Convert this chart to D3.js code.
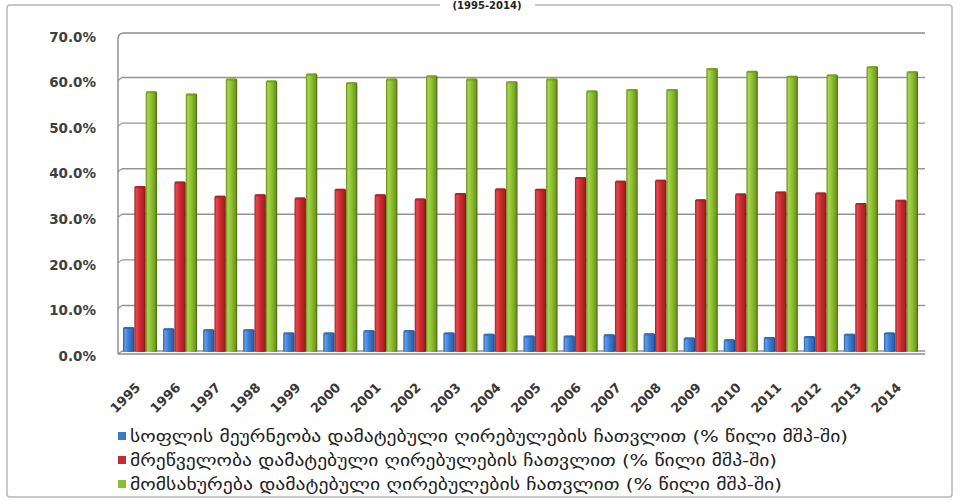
<!DOCTYPE html>
<html><head><meta charset="utf-8">
<script src="https://cdn.jsdelivr.net/npm/d3@7"></script>
<style>body{margin:0;background:#fff}svg{display:block}</style>
</head><body>
<svg id="c" width="960" height="502"></svg>
<script>
const years = ["1995","1996","1997","1998","1999","2000","2001","2002","2003","2004","2005","2006","2007","2008","2009","2010","2011","2012","2013","2014"];
const agriculture = [5.5,5.2,5.0,5.0,4.3,4.3,4.8,4.8,4.3,4.0,3.6,3.6,3.9,4.1,3.2,2.8,3.3,3.5,4.0,4.3];
const industry = [36.4,37.4,34.3,34.6,33.9,35.8,34.6,33.7,34.9,35.9,35.8,38.4,37.6,37.8,33.5,34.8,35.2,35.0,32.7,33.4];
const services = [57.2,56.7,60.0,59.6,61.1,59.2,60.0,60.7,60.0,59.4,60.0,57.4,57.7,57.7,62.3,61.7,60.6,60.9,62.7,61.6];
const seriesNames = [
  "სოფლის მეურნეობა დამატებული ღირებულების ჩათვლით (% წილი მშპ-ში)",
  "მრეწველობა დამატებული ღირებულების ჩათვლით (% წილი მშპ-ში)",
  "მომსახურება დამატებული ღირებულების ჩათვლით (% წილი მშპ-ში)"
];
const yTicks = [0,10,20,30,40,50,60,70];
const title = "(1995-2014)";

const svg = d3.select("#c");
const colors = ["#3a78c8","#c42a2f","#8cbf30"];
const grads = [
  ["#2a5ea8","#5f9de8","#3a7bd0","#2c63b0","#1d4585"],
  ["#a01e22","#e3484c","#cc2a2f","#a82024","#7a1215"],
  ["#5f8a1a","#a8d44c","#8dbf30","#6f9a20","#3f5f0c"]
];
const defs = svg.append("defs");
grads.forEach((g,i)=>{
  const lg = defs.append("linearGradient").attr("id","g"+i).attr("x1","0").attr("x2","1").attr("y1","0").attr("y2","0");
  [0,0.18,0.5,0.85,1].forEach((o,j)=>lg.append("stop").attr("offset",o).attr("stop-color",g[j]));
});

// frame
svg.append("rect").attr("x",7).attr("y",5).attr("width",945).attr("height",492).attr("rx",3)
  .attr("fill","#fff").attr("stroke","#b8b8b8").attr("stroke-width",1.5);
svg.append("rect").attr("x",440).attr("y",0).attr("width",95).attr("height",10).attr("fill","#fff");
svg.append("text").attr("x",487).attr("y",9).attr("text-anchor","middle")
  .attr("font-family","DejaVu Sans").attr("font-weight","bold").attr("font-size",10).attr("fill","#222").text(title);

const x0 = 118, x1 = 925;
const y = d3.scaleLinear().domain([0,70]).range([352,33]);
const xb = d3.scaleBand().domain(years).range([119,922]).paddingInner(0.15).paddingOuter(0.1);
const xs = d3.scaleBand().domain([0,1,2]).range([0,xb.bandwidth()]);

// gridlines
const grid = svg.append("g");
yTicks.forEach(t=>{
  if (t===70) return;
  grid.append("line").attr("x1",x0+4).attr("x2",x1).attr("y1",y(t)-1).attr("y2",y(t)-1)
    .attr("stroke","#939398").attr("stroke-width",1.4);
  grid.append("line").attr("x1",x0).attr("x2",x0+4).attr("y1",y(t)+2).attr("y2",y(t)-1)
    .attr("stroke","#939398").attr("stroke-width",1.2);
});
// top border & left axis
svg.append("path").attr("d",`M${x0},${y(0)+2} L${x0},${y(70)+6} Q${x0},${y(70)} ${x0+6},${y(70)} L${x1},${y(70)}`)
  .attr("fill","none").attr("stroke","#8a8a8a").attr("stroke-width",1.4);
// floor
svg.append("line").attr("x1",x0).attr("x2",x1).attr("y1",y(0)+2).attr("y2",y(0)+2).attr("stroke","#8a8a8a").attr("stroke-width",1.4);

// bars
const data = [agriculture, industry, services];
data.forEach((vals,si)=>{
  const g = svg.append("g");
  g.selectAll("rect.b").data(vals).join("rect").attr("class","b")
    .attr("x",(d,i)=>xb(years[i])+xs(si))
    .attr("width",xs.bandwidth())
    .attr("y",d=>y(d))
    .attr("height",d=>y(0)-y(d))
    .attr("rx",1.5)
    .attr("fill",`url(#g${si})`);
  g.selectAll("rect.t").data(vals).join("rect").attr("class","t")
    .attr("x",(d,i)=>xb(years[i])+xs(si)+1)
    .attr("width",xs.bandwidth()-2)
    .attr("y",d=>y(d))
    .attr("height",2)
    .attr("fill",grads[si][3]).attr("opacity",0.8);
});

// y labels
svg.append("g").selectAll("text").data(yTicks).join("text")
  .attr("x",96).attr("y",d=>y(d)+4).attr("dy","0.35em").attr("text-anchor","end")
  .attr("font-family","DejaVu Sans").attr("font-weight","bold").attr("font-size",13.5).attr("fill","#404040")
  .text(d=>d3.format(".1%")(d/100));

// x labels
svg.append("g").selectAll("text").data(years).join("text")
  .attr("transform",d=>`translate(${xb(d)+xb.bandwidth()/2-2},${385}) rotate(-45)`)
  .attr("text-anchor","end").attr("dy","0.35em")
  .attr("font-family","DejaVu Sans").attr("font-weight","bold").attr("font-size",13).attr("fill","#383838")
  .text(d=>d);

// legend
const legendWidths = [718, 647, 652];
const lg = svg.append("g");
seriesNames.forEach((n,i)=>{
  const cy = 436 + i*24;
  lg.append("rect").attr("x",118).attr("y",cy-4).attr("width",8).attr("height",8).attr("fill",colors[i]);
  lg.append("text").attr("x",130).attr("y",cy).attr("dy","0.35em")
    .attr("font-family","DejaVu Sans").attr("font-size",16).attr("fill","#222")
    .attr("textLength",legendWidths[i]).attr("lengthAdjust","spacingAndGlyphs").text(n);
});
</script>
</body></html>
